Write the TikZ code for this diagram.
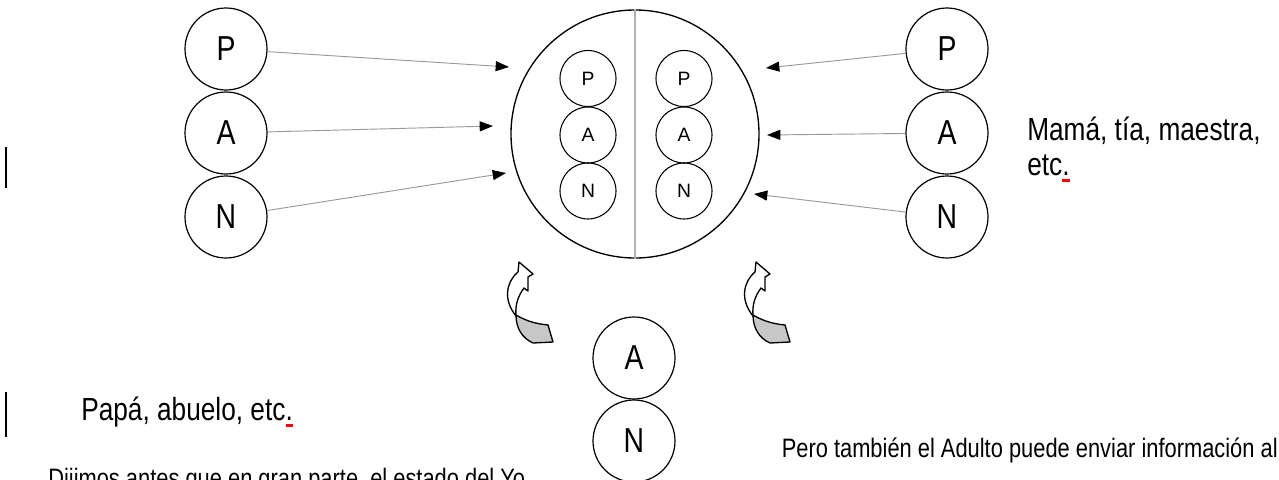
\documentclass[tikz,border=0pt]{standalone}
\usepackage{fontspec}
\setmainfont{Liberation Sans}
\newfontfamily\narrowfont{Liberation Sans}[FakeStretch=0.82]
\usetikzlibrary{arrows.meta}

% red spell-check mark under a full stop
\newcommand\spellmark{\makebox[0pt][l]{\color{red}\rule[-5.5pt]{5.5pt}{2.2pt}}.}

\begin{document}
\begin{tikzpicture}[x=0.75pt,y=-0.75pt,
  role/.style={circle,draw,line width=0.9pt,minimum size=61.5pt,inner sep=0pt,
    font=\narrowfont\fontsize{26}{30}\selectfont},
  inner/.style={circle,draw,line width=0.8pt,minimum size=42pt,inner sep=0pt,
    font=\fontsize{14.5}{17}\selectfont},
  feed/.style={draw=black!40,line width=0.7pt,
    -{Triangle[length=10pt,width=7.5pt,color=black]}},
  caption/.style={anchor=base west,inner sep=0pt,
    font=\narrowfont\fontsize{24}{28}\selectfont},
  prose/.style={inner sep=0pt,
    font=\narrowfont\fontsize{20}{24}\selectfont},
  twist/.pic={
    % back face of the ribbon
    \draw[line width=1pt,fill=black!22,line join=round]
      (-3,53) .. controls (9,60) and (19,62) .. (29,63)
      -- (34,80) -- (14,81)
      .. controls (3,76) and (-3,66) .. (-3,53) -- cycle;
    % front face with the head
    \draw[line width=1pt,fill=white,line join=round]
      (-3,54) .. controls (-16,38) and (-13,20) .. (-1,10)
      -- (0,0) -- (14,12) -- (9,15) -- (9,29) -- (5,26)
      .. controls (-1,34) and (-4,43) .. (-3,54) -- cycle;
  }]
\useasboundingbox (0,0) rectangle (1279,479);
\clip (0,0) rectangle (1279,479);

% the person in the middle: Padre / Adulto / Nino on each side
\node[circle,draw,line width=1pt,minimum size=186pt,inner sep=0pt] (yo) at (635,134) {};
\draw[black!30,line width=1pt] (yo.north) -- (yo.south);
\node[inner] (ip1) at (588,78.5) {P};
\node[inner] (ia1) at (588,135) {A};
\node[inner] (in1) at (588,191) {N};
\node[inner] (ip2) at (684,78.5) {P};
\node[inner] (ia2) at (684,135) {A};
\node[inner] (in2) at (684,191) {N};

% father figures
\node[role] (lp) at (226,49) {P};
\node[role] (la) at (226,133) {A};
\node[role] (ln) at (226,217) {N};
% mother figures
\node[role] (rp) at (947,49) {P};
\node[role] (ra) at (947,133) {A};
\node[role] (rn) at (947,217) {N};
% own Adulto and Nino
\node[role] (ba) at (634,358) {A};
\node[role] (bn) at (634,441) {N};

\coordinate (tlp) at (509,67);
\coordinate (tla) at (493,126);
\coordinate (tln) at (506,173);
\coordinate (trp) at (766,68);
\coordinate (tra) at (767,135);
\coordinate (trn) at (754,194);
\draw[feed] (lp) -- (tlp);
\draw[feed] (la) -- (tla);
\draw[feed] (ln) -- (tln);
\draw[feed] (rp) -- (trp);
\draw[feed] (ra) -- (tra);
\draw[feed] (rn) -- (trn);

% curved arrows from the Adulto up to the two halves
\begin{scope}[shift={(519,262)}]
  \pic {twist};
\end{scope}
\begin{scope}[shift={(756,262)},xscale=-1]
  \pic {twist};
\end{scope}

% captions
\node[caption] (mama) at (1027,140) {Mamá, tía, maestra,};
\node[caption] (etc) at (1027,175) {etc\spellmark};
\node[caption] (papa) at (81,420) {Papá, abuelo, etc\spellmark};
\node[prose,anchor=base west] (dij) at (48,487) {Dijimos antes que en gran parte, el estado del Yo};
\node[prose,anchor=base east] (pero) at (1278,457) {Pero también el Adulto puede enviar información al};

% change bars in the margin
\draw[line width=1.4pt] (6,147) -- (6,188);
\draw[line width=1.4pt] (6,392) -- (6,437);
\end{tikzpicture}
\end{document}
